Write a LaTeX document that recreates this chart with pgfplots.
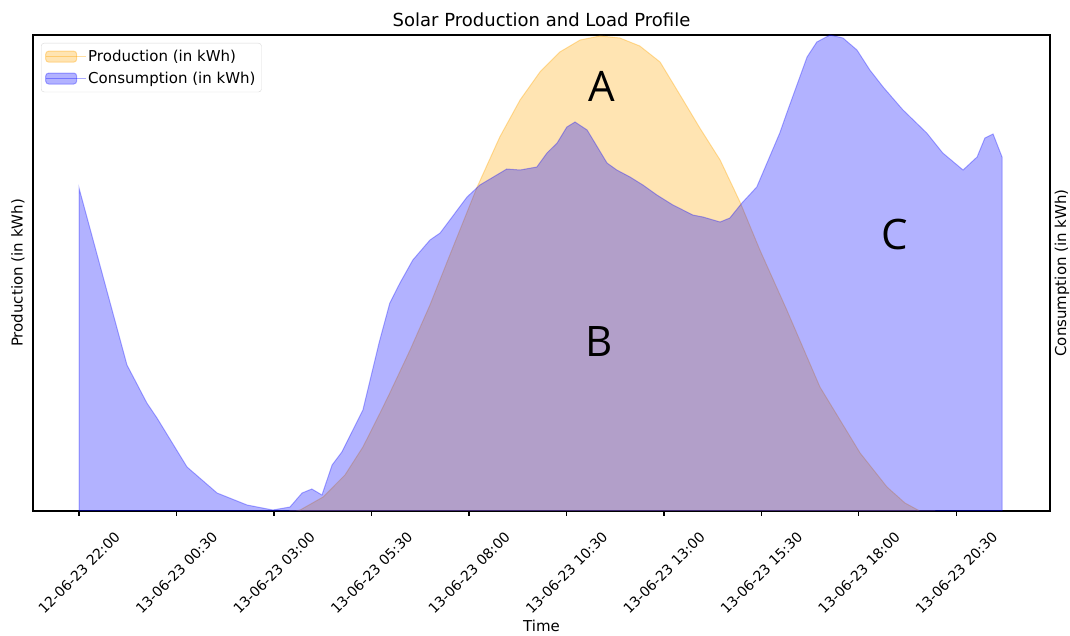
\documentclass[border=0pt]{standalone}
\usepackage{fontspec}
\setmainfont{DejaVu Sans}
\newfontfamily\abcfont{Open Sans}
\usepackage{pgfplots}
\pgfplotsset{compat=1.18}
\usetikzlibrary{calc}
\definecolor{mplorange}{RGB}{255,165,0}
\definecolor{mplblue}{RGB}{0,0,255}
\begin{document}
\begin{tikzpicture}
\begin{axis}[
  scale only axis, width=1017pt, height=476pt,
  xmin=-1.18, xmax=24.9, ymin=1, ymax=477,
  axis line style={line width=1.1pt, black},
  ytick=\empty,
  xtick={0,2.5,5,7.5,10,12.5,15,17.5,20,22.5},
  xticklabels={12-06-23 22:00,13-06-23 00:30,13-06-23 03:00,13-06-23 05:30,13-06-23 08:00,13-06-23 10:30,13-06-23 13:00,13-06-23 15:30,13-06-23 18:00,13-06-23 20:30},
  xtick pos=left, tick align=outside,
  major tick length=5pt, tick style={line width=1.1pt, black},
  xticklabel style={anchor=center, yshift=-57pt, rotate=45, font=\fontsize{14}{17}\selectfont},
  title={Solar Production and Load Profile},
  title style={at={(axis description cs:0.5,1)}, anchor=center, yshift=9pt, font=\fontsize{18}{21}\selectfont},
  xlabel={Time},
  xlabel style={at={(axis description cs:0.5,0)}, anchor=center, yshift=-115pt, font=\fontsize{15}{18}\selectfont},
  ylabel={Production (in kWh)},
  ylabel style={at={(axis description cs:-0.0148,0.5)}, anchor=center, font=\fontsize{15}{18}\selectfont},
  legend cell align=left,
  legend style={at={(0,1)}, anchor=north west, xshift=8pt, yshift=-8pt, draw=black!15, rounded corners=3pt, fill=white, fill opacity=0.8, text opacity=1, font=\fontsize{15}{18}\selectfont, row sep=5pt, inner xsep=4pt, inner ysep=5pt},
  legend image code/.code={\draw[#1] (0pt,-5.5pt) rectangle (31pt,5.5pt); \path (0pt,0pt) -- (40pt,0pt);},
]
\addplot[fill=mplorange, fill opacity=0.3, draw=mplorange, draw opacity=0.35, line width=1pt] coordinates {
(5.41,0) (5.67,2) (6.26,15) (6.82,37) (7.28,65) (7.72,99) (7.97,119) (8.49,162)
(9.00,207) (9.51,257) (10.21,325) (10.79,375) (11.31,412) (11.82,440) (12.33,460)
(12.85,472) (13.36,476) (13.87,474) (14.38,466) (14.90,450) (15.49,412) (15.92,384)
(16.44,352) (16.95,310) (17.46,262) (18.15,202) (19.00,125) (20.03,59) (20.72,25)
(21.18,9) (21.56,1) (21.95,0)
} \closedcycle;
\addlegendentry{Production (in kWh)}
\addplot[fill=mplblue, fill opacity=0.3, draw=mplblue, draw opacity=0.3, line width=1pt] coordinates {
(0.00,324) (1.23,147) (1.74,109) (2.00,94) (2.77,45) (3.54,19) (4.31,7) (4.97,2)
(5.41,5) (5.72,19) (5.97,23) (6.23,17) (6.49,47) (6.74,60) (7.28,102) (7.70,170) (7.97,209)
(8.23,229) (8.56,252) (9.00,272) (9.26,279) (9.95,315) (10.28,327) (10.97,343)
(11.31,342) (11.74,345) (12.00,359) (12.26,369) (12.51,385) (12.72,390) (13.03,382)
(13.54,349) (13.79,342) (14.13,335) (14.46,327) (14.82,317) (15.23,307) (15.74,297)
(16.00,295) (16.44,290) (16.69,294) (17.00,309) (17.38,325) (17.97,379) (18.15,399)
(18.67,455) (18.92,470) (19.26,477) (19.59,474) (19.95,462) (20.28,442) (20.62,425)
(21.13,402) (21.74,379) (22.15,359) (22.67,342) (23.03,355) (23.23,374) (23.44,378)
(23.67,355)
} \closedcycle;
\addlegendentry{Consumption (in kWh)}
\node[font=\abcfont\fontsize{42}{48}\selectfont] at (axis cs:13.41,426) {A};
\node[font=\abcfont\fontsize{42}{48}\selectfont] at (axis cs:13.33,170) {B};
\node[font=\abcfont\fontsize{42}{48}\selectfont] at (axis cs:20.92,277) {C};
\end{axis}
\node[rotate=90, anchor=center, font=\fontsize{15}{18}\selectfont] at ($(current axis.east)+(12pt,0)$) {Consumption (in kWh)};
\pgfresetboundingbox
\path ($(current axis.south west)+(-33pt,-125pt)$) rectangle ($(current axis.north east)+(20pt,35pt)$);
\end{tikzpicture}
\end{document}
